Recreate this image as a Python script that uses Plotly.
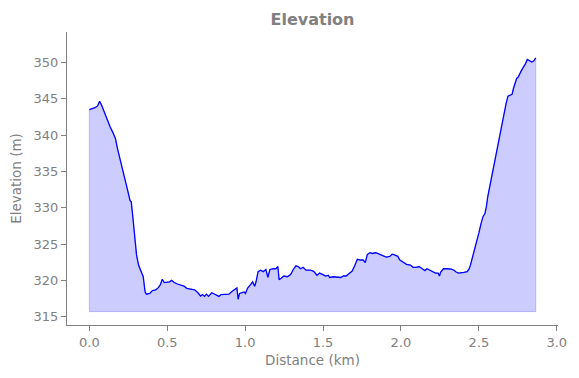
import plotly.graph_objects as go

distance_km = [
    0.000, 0.015, 0.036, 0.053, 0.066, 0.079, 0.091, 0.104, 0.117, 0.134,
    0.150, 0.168, 0.180, 0.197, 0.214, 0.231, 0.248, 0.261, 0.269, 0.278,
    0.290, 0.303, 0.316, 0.333, 0.346, 0.358, 0.367, 0.388, 0.405, 0.426,
    0.443, 0.456, 0.468, 0.481, 0.498, 0.515, 0.528, 0.545, 0.565, 0.587,
    0.608, 0.625, 0.646, 0.676, 0.697, 0.714, 0.727, 0.739, 0.752, 0.765,
    0.786, 0.803, 0.820, 0.832, 0.845, 0.867, 0.896, 0.917, 0.938, 0.947,
    0.955, 0.964, 0.981, 0.994, 1.002, 1.015, 1.036, 1.048, 1.061, 1.070,
    1.083, 1.099, 1.116, 1.133, 1.146, 1.159, 1.180, 1.197, 1.210, 1.218,
    1.231, 1.248, 1.271, 1.292, 1.309, 1.326, 1.343, 1.356, 1.372, 1.390,
    1.419, 1.440, 1.461, 1.478, 1.499, 1.517, 1.534, 1.542, 1.567, 1.593,
    1.614, 1.631, 1.648, 1.665, 1.686, 1.703, 1.720, 1.741, 1.758, 1.771,
    1.784, 1.801, 1.817, 1.839, 1.864, 1.885, 1.906, 1.928, 1.944, 1.959,
    1.980, 1.993, 2.014, 2.036, 2.061, 2.078, 2.099, 2.116, 2.137, 2.154,
    2.167, 2.184, 2.201, 2.222, 2.239, 2.247, 2.255, 2.273, 2.298, 2.323,
    2.341, 2.354, 2.370, 2.387, 2.404, 2.425, 2.438, 2.446, 2.459, 2.471,
    2.484, 2.501, 2.514, 2.527, 2.539, 2.548, 2.557, 2.565, 2.578, 2.590,
    2.603, 2.616, 2.628, 2.641, 2.654, 2.666, 2.675, 2.687, 2.700, 2.713,
    2.722, 2.734, 2.743, 2.751, 2.760, 2.773, 2.785, 2.798, 2.811, 2.819,
    2.827, 2.840, 2.853, 2.865,
]

elevation_m = [
    343.5, 343.6, 343.75, 344.0, 344.65, 344.1, 343.4, 342.7, 341.8, 341.1,
    340.4, 339.5, 338.2, 336.8, 335.2, 333.8, 332.2, 331.0, 330.8, 329.0,
    326.2, 323.5, 322.1, 321.2, 320.5, 318.4, 318.1, 318.2, 318.6, 318.7,
    319.0, 319.4, 320.15, 319.7, 319.8, 319.8, 320.0, 319.7, 319.5, 319.4,
    319.2, 318.9, 318.8, 318.7, 318.3, 317.85, 318.05, 317.8, 318.1, 317.8,
    318.3, 318.1, 317.95, 317.8, 318.05, 318.1, 318.1, 318.5, 318.9, 318.95,
    317.4, 318.2, 318.3, 318.4, 318.2, 318.9, 319.45, 319.8, 319.2, 319.8,
    321.2, 321.4, 321.2, 321.5, 320.4, 321.5, 321.6, 321.6, 321.9, 320.1,
    320.3, 320.6, 320.5, 320.8, 321.5, 322.0, 321.85, 321.6, 321.8, 321.4,
    321.4, 321.25, 320.7, 321.0, 320.8, 320.6, 320.7, 320.4, 320.5, 320.5,
    320.4, 320.6, 320.6, 320.9, 321.25, 322.0, 322.9, 322.8, 322.8, 322.45,
    323.55, 323.8, 323.7, 323.8, 323.6, 323.4, 323.2, 323.3, 323.6, 323.5,
    323.3, 322.8, 322.45, 322.2, 322.1, 321.8, 321.8, 321.9, 321.6, 321.35,
    321.6, 321.4, 321.15, 321.0, 321.0, 320.6, 321.15, 321.6, 321.6, 321.55,
    321.4, 321.15, 321.0, 321.0, 321.1, 321.2, 321.6, 322.1, 323.1, 324.2,
    325.2, 326.6, 327.8, 328.8, 329.2, 330.1, 331.5, 332.4, 333.55, 335.2,
    336.5, 337.9, 339.3, 340.7, 342.05, 343.4, 344.35, 345.35, 345.5, 345.6,
    346.4, 347.3, 347.8, 347.9, 348.4, 348.85, 349.3, 349.75, 350.4, 350.3,
    350.1, 350.05, 350.2, 350.6,
]

fill_baseline_m = 315.7
x_ticks = [0.0, 0.5, 1.0, 1.5, 2.0, 2.5, 3.0]
y_ticks = [315, 320, 325, 330, 335, 340, 345, 350]
x_range = [-0.1433, 3.008]
y_range = [313.86, 354.17]

GRAY = "#808080"
FONT = "DejaVu Sans"

fig = go.Figure()

# shaded area between baseline and profile
fig.add_trace(go.Scatter(
    x=distance_km + [distance_km[-1], distance_km[0], distance_km[0]],
    y=elevation_m + [fill_baseline_m, fill_baseline_m, elevation_m[0]],
    mode="lines",
    fill="toself",
    fillcolor="rgba(0,0,255,0.2)",
    line=dict(color="rgba(0,0,255,0.2)", width=1),
    hoverinfo="skip",
    showlegend=False,
))

# elevation profile line
fig.add_trace(go.Scatter(
    x=distance_km,
    y=elevation_m,
    mode="lines",
    line=dict(color="#0000ff", width=1.3),
    showlegend=False,
))

axis_common = dict(
    showline=True,
    linecolor=GRAY,
    linewidth=1,
    mirror=False,
    showgrid=False,
    zeroline=False,
    ticks="outside",
    ticklen=5,
    tickwidth=1,
    tickcolor=GRAY,
    tickfont=dict(family=FONT, size=13, color=GRAY),
)

fig.update_layout(
    width=579,
    height=378,
    margin=dict(l=67, r=17, t=32, b=53),
    paper_bgcolor="white",
    plot_bgcolor="white",
    title=dict(
        text="<b>Elevation</b>",
        font=dict(family=FONT, size=16, color=GRAY),
        x=0.5,
        xref="paper",
        xanchor="center",
        y=1 - 19 / 378,
        yref="container",
        yanchor="middle",
    ),
    xaxis=dict(
        range=x_range,
        tickvals=x_ticks,
        ticktext=[f"{v:.1f}" for v in x_ticks],
        title=dict(text="Distance (km)", font=dict(family=FONT, size=13.5, color=GRAY), standoff=6),
        **axis_common,
    ),
    yaxis=dict(
        range=y_range,
        tickvals=y_ticks,
        title=dict(text="Elevation (m)", font=dict(family=FONT, size=13.5, color=GRAY), standoff=8),
        **axis_common,
    ),
)

fig.write_html(
    "out.html",
    config={"displayModeBar": False},
    post_script="document.body.style.margin='0';document.body.style.padding='0';",
)
